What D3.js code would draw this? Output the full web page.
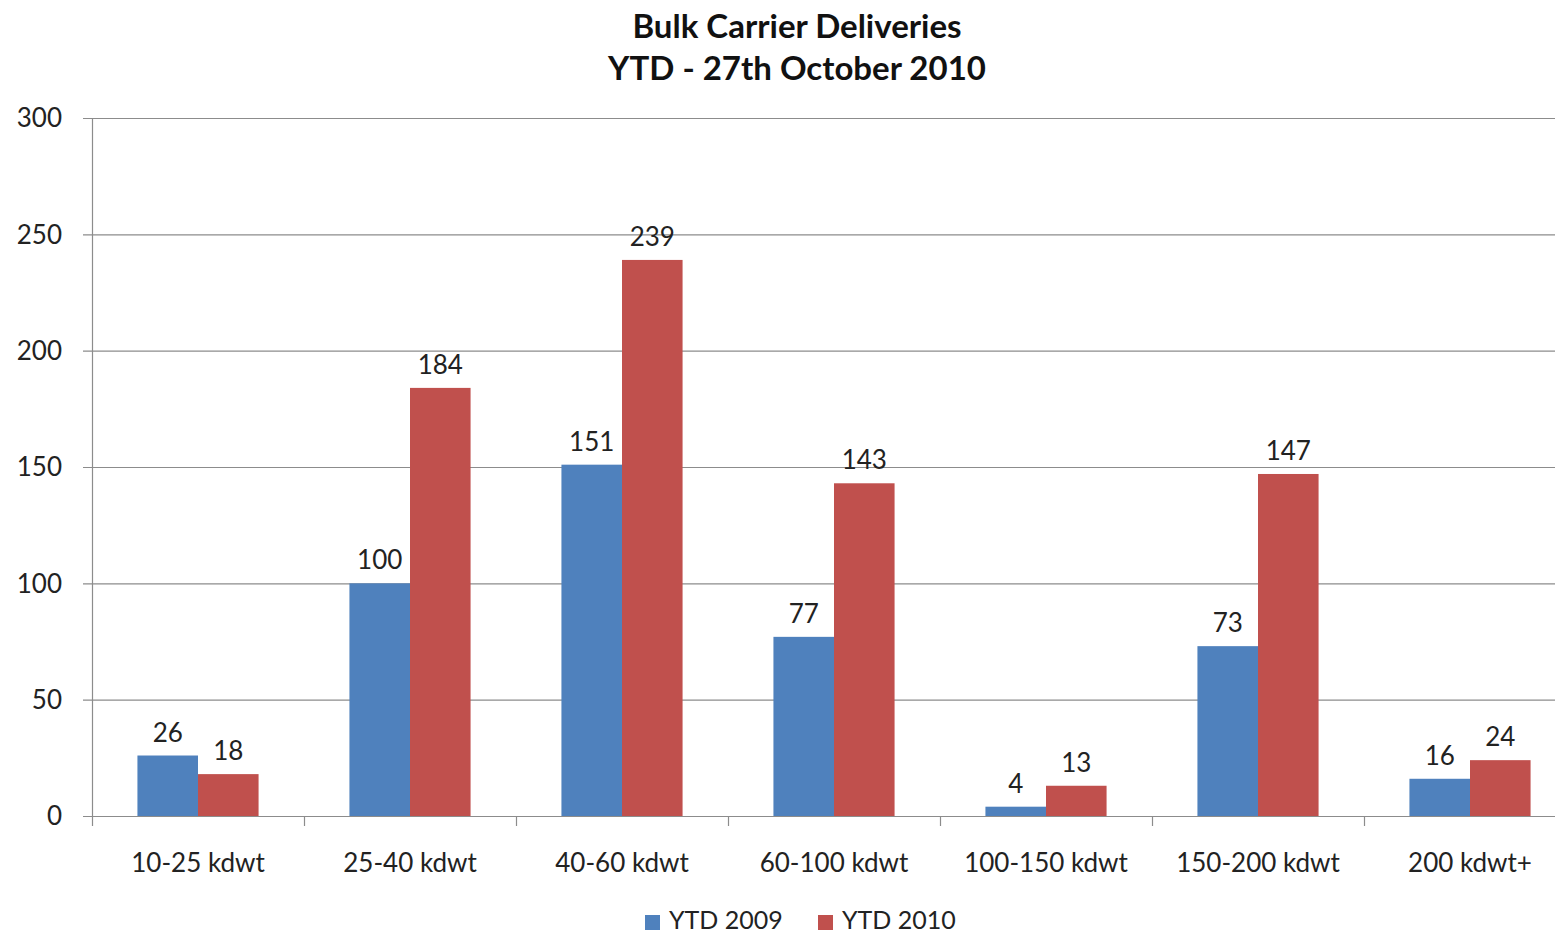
<!DOCTYPE html>
<html>
<head>
<meta charset="utf-8">
<script src="https://cdn.jsdelivr.net/npm/d3@7"></script>
<style>
  html, body { margin: 0; padding: 0; background: #fff; }
  svg { display: block; font-family: Lato, "Open Sans", sans-serif; }
</style>
</head>
<body>
<svg id="chart" width="1555" height="934"></svg>
<script>
const categories = ["10-25 kdwt", "25-40 kdwt", "40-60 kdwt", "60-100 kdwt", "100-150 kdwt", "150-200 kdwt", "200 kdwt+"];
const ytd2009 = [26, 100, 151, 77, 4, 73, 16];
const ytd2010 = [18, 184, 239, 143, 13, 147, 24];
const seriesNames = ["YTD 2009", "YTD 2010"];
const seriesColors = ["#4f81bd", "#c0504d"];
const yTicks = [0, 50, 100, 150, 200, 250, 300];
const titleLines = ["Bulk Carrier Deliveries", "YTD - 27th October 2010"];

const svg = d3.select("#chart");
const plotLeft = 92, plotTop = 118, plotBottom = 816;
const bandW = 212;
const plotRight = plotLeft + bandW * categories.length;

const x = d3.scaleBand().domain(categories).range([plotLeft, plotRight]).paddingInner(0).paddingOuter(0);
const y = d3.scaleLinear().domain([0, 300]).range([plotBottom, plotTop]);
const x1 = d3.scaleBand().domain(seriesNames).range([0, x.bandwidth()]).paddingInner(0).paddingOuter(0.75);

// title
svg.append("g").selectAll("text").data(titleLines).join("text")
  .attr("x", 797).attr("y", (d, i) => 38 + i * 42)
  .attr("text-anchor", "middle")
  .attr("font-weight", "bold").attr("font-size", 33).attr("fill", "#111")
  .text(d => d);

// horizontal gridlines
svg.append("g").selectAll("line").data(yTicks).join("line")
  .attr("x1", plotLeft - 9).attr("x2", 1555)
  .attr("y1", d => y(d) + 0.5).attr("y2", d => y(d) + 0.5)
  .attr("stroke", "#8c8c8c").attr("stroke-width", 1.2);

// y axis labels
svg.append("g").selectAll("text").data(yTicks).join("text")
  .attr("x", 62).attr("y", d => y(d)).attr("dy", "0.36em")
  .attr("text-anchor", "end").attr("font-size", 26).attr("fill", "#222")
  .text(d => d);

// y axis line
svg.append("line").attr("x1", plotLeft + 0.5).attr("x2", plotLeft + 0.5)
  .attr("y1", plotTop).attr("y2", plotBottom + 10)
  .attr("stroke", "#8c8c8c").attr("stroke-width", 1.2);

// category tick marks
svg.append("g").selectAll("line").data(d3.range(1, categories.length + 1)).join("line")
  .attr("x1", i => plotLeft + i * bandW + 0.5).attr("x2", i => plotLeft + i * bandW + 0.5)
  .attr("y1", plotBottom).attr("y2", plotBottom + 10)
  .attr("stroke", "#8c8c8c").attr("stroke-width", 1.2);

// bars
const series = [ytd2009, ytd2010];
const groups = svg.append("g").selectAll("g").data(categories).join("g")
  .attr("transform", d => `translate(${x(d)},0)`);

const rows = (d, ci) => series.map((s, si) => ({ key: seriesNames[si], v: s[ci], si }));

groups.selectAll("rect").data(rows).join("rect")
  .attr("x", d => x1(d.key)).attr("width", x1.bandwidth())
  .attr("y", d => y(d.v)).attr("height", d => plotBottom - y(d.v))
  .attr("fill", d => seriesColors[d.si]);

groups.selectAll("text").data(rows).join("text")
  .attr("x", d => x1(d.key) + x1.bandwidth() / 2)
  .attr("y", d => y(d.v) - 14)
  .attr("text-anchor", "middle").attr("font-size", 26).attr("fill", "#222")
  .text(d => d.v);

// category labels
svg.append("g").selectAll("text").data(categories).join("text")
  .attr("x", d => x(d) + x.bandwidth() / 2).attr("y", 872)
  .attr("text-anchor", "middle").attr("font-size", 26).attr("fill", "#222")
  .text(d => d);

// legend
const legend = svg.append("g");
const legendItems = [{ name: seriesNames[0], x: 645 }, { name: seriesNames[1], x: 818 }];
legendItems.forEach((it, i) => {
  legend.append("rect").attr("x", it.x).attr("y", 915).attr("width", 15).attr("height", 15).attr("fill", seriesColors[i]);
  legend.append("text").attr("x", it.x + 24).attr("y", 929)
    .attr("font-size", 25).attr("fill", "#222").text(it.name);
});
</script>
</body>
</html>
